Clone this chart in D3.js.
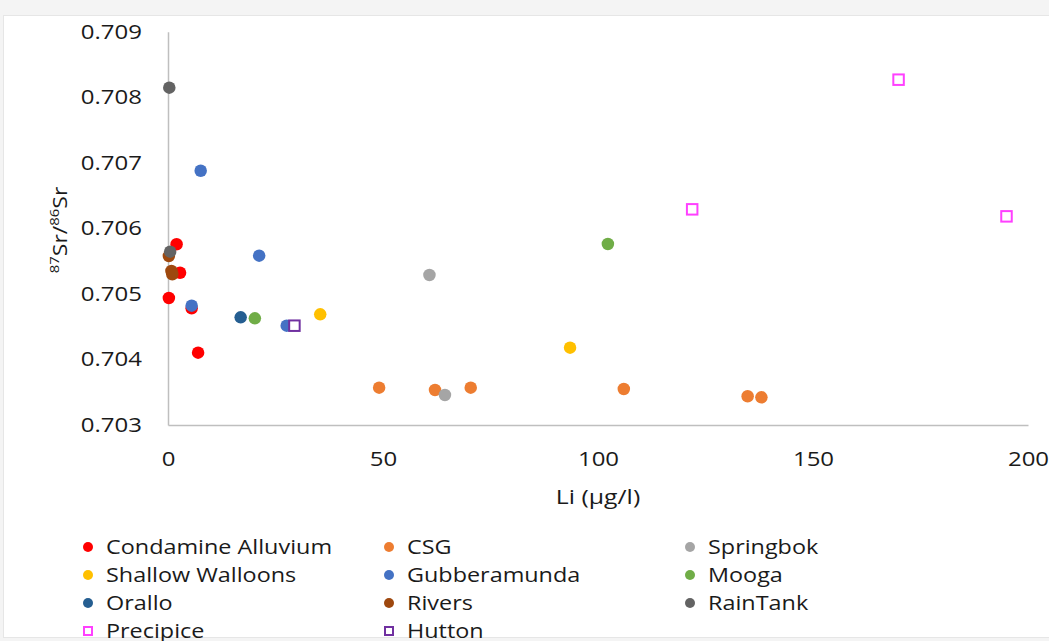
<!DOCTYPE html>
<html>
<head>
<meta charset="utf-8">
<script src="https://cdn.jsdelivr.net/npm/d3@7"></script>
<style>
  html, body { margin: 0; padding: 0; background: #f4f4f4; }
  svg { display: block; }
  text { font-family: "Open Sans", "Noto Sans", sans-serif; fill: #1a1a1a; }
</style>
</head>
<body>
<svg id="chart" width="1049" height="641"></svg>
<script>
// Li (µg/l) vs 87Sr/86Sr by water source
const seriesNames = ["Condamine Alluvium", "CSG", "Springbok", "Shallow Walloons", "Gubberamunda",
                     "Mooga", "Orallo", "Rivers", "RainTank", "Precipice", "Hutton"];
const seriesColors = ["#ff0000", "#ed7d31", "#a5a5a5", "#ffc000", "#4472c4",
                      "#70ad47", "#255e91", "#9e480e", "#636363", "#ff40ff", "#7030a0"];
const seriesShapes = ["circle", "circle", "circle", "circle", "circle",
                      "circle", "circle", "circle", "circle", "square", "square"];

const condamineLi = [2.0, 2.8, 0.2, 5.5, 7.0];
const condamineSr = [0.705757, 0.705323, 0.704937, 0.704780, 0.704103];
const csgLi = [49.1, 62.1, 70.4, 106.0, 134.8, 138.0];
const csgSr = [0.703569, 0.703534, 0.703569, 0.703549, 0.703438, 0.703422];
const springbokLi = [60.8, 64.4];
const springbokSr = [0.705288, 0.703458];
const shallowWalloonsLi = [35.4, 93.5];
const shallowWalloonsSr = [0.704688, 0.704180];
const gubberamundaLi = [7.6, 21.2, 5.5, 27.6];
const gubberamundaSr = [0.706879, 0.705583, 0.704820, 0.704515];
const moogaLi = [20.2, 102.3];
const moogaSr = [0.704627, 0.705761];
const oralloLi = [16.9];
const oralloSr = [0.704643];
const riversLi = [0.2, 0.8, 1.0];
const riversSr = [0.705578, 0.705350, 0.705300];
const rainTankLi = [0.3, 0.5];
const rainTankSr = [0.708146, 0.705644];
const precipiceLi = [169.9, 121.9, 195.0];
const precipiceSr = [0.708268, 0.706290, 0.706183];
const huttonLi = [29.4];
const huttonSr = [0.704515];

const seriesLi = [condamineLi, csgLi, springbokLi, shallowWalloonsLi, gubberamundaLi,
                  moogaLi, oralloLi, riversLi, rainTankLi, precipiceLi, huttonLi];
const seriesSr = [condamineSr, csgSr, springbokSr, shallowWalloonsSr, gubberamundaSr,
                  moogaSr, oralloSr, riversSr, rainTankSr, precipiceSr, huttonSr];

const xTicks = [0, 50, 100, 150, 200];
const yTicks = [0.703, 0.704, 0.705, 0.706, 0.707, 0.708, 0.709];

const svg = d3.select("#chart");

// white chart panel
svg.append("rect")
  .attr("x", 3.5).attr("y", 15.5).attr("width", 1050).attr("height", 622)
  .attr("fill", "#ffffff").attr("stroke", "#e6e6e6");

const plot = { left: 168, right: 1028, top: 31.7, bottom: 425 };

const x = d3.scaleLinear().domain([0, 200]).range([plot.left, plot.right]);
const y = d3.scaleLinear().domain([0.703, 0.709]).range([plot.bottom, plot.top]);

// wide lettering: text is stretched horizontally
const STRETCH = 1.2;

// axes: lines only, no tick marks
const xAxis = d3.axisBottom(x).tickValues(xTicks).tickSize(0).tickPadding(27).tickFormat(d3.format("d"));
const yAxis = d3.axisLeft(y).tickValues(yTicks).tickSize(0).tickPadding(26 / STRETCH).tickFormat(d3.format(".3f"));

const gx = svg.append("g").attr("transform", `translate(0,${plot.bottom})`).call(xAxis);
const gy = svg.append("g").attr("transform", `translate(${plot.left},0)`).call(yAxis);

[gx, gy].forEach(g => {
  g.select(".domain").attr("stroke", "#bfbfbf").attr("stroke-width", 1.5);
  g.selectAll("text")
    .attr("font-size", 20)
    .attr("font-family", "\"Open Sans\", sans-serif")
    .attr("fill", "#1a1a1a")
    .attr("transform", `scale(${STRETCH},1)`);
});

// stretched text placed at (tx, ty)
function stretchedText(parent, tx, ty, s, rotate) {
  const g = parent.append("g")
    .attr("transform", `translate(${tx},${ty})` + (rotate ? ` rotate(${rotate})` : "") + ` scale(${s},1)`);
  return g.append("text");
}

// axis titles
stretchedText(svg, (plot.left + plot.right) / 2, 504, 1.24)
  .attr("text-anchor", "middle").attr("font-size", 20)
  .text("Li (µg/l)");

const yTitle = stretchedText(svg, 67, 230, 1.15, -90)
  .attr("text-anchor", "middle").attr("font-size", 20);
yTitle.append("tspan").attr("baseline-shift", "super").attr("font-size", 13).text("87");
yTitle.append("tspan").text("Sr/");
yTitle.append("tspan").attr("baseline-shift", "super").attr("font-size", 13).text("86");
yTitle.append("tspan").text("Sr");

// markers
function drawMarker(g, shape, color, cx, cy, size) {
  if (shape === "circle") {
    g.append("circle").attr("cx", cx).attr("cy", cy).attr("r", size / 2).attr("fill", color);
  } else {
    g.append("rect").attr("x", cx - size / 2 + 1).attr("y", cy - size / 2 + 1)
      .attr("width", size - 2).attr("height", size - 2)
      .attr("fill", "#ffffff").attr("stroke", color).attr("stroke-width", 2);
  }
}

const points = svg.append("g");
seriesNames.forEach((name, i) => {
  const g = points.append("g").attr("class", "series");
  seriesLi[i].forEach((li, j) => {
    drawMarker(g, seriesShapes[i], seriesColors[i], x(li), y(seriesSr[i][j]), 12.5);
  });
});

// legend, three columns
const legendCols = [88, 389, 690];
const legendRows = [547, 575, 603, 631];
const legend = svg.append("g");
seriesNames.forEach((name, i) => {
  const cx = legendCols[i % 3];
  const cy = legendRows[Math.floor(i / 3)];
  drawMarker(legend, seriesShapes[i], seriesColors[i], cx, cy, 10);
  stretchedText(legend, cx + 18, cy + 7, 1.17)
    .attr("font-size", 20).text(name);
});
</script>
</body>
</html>
